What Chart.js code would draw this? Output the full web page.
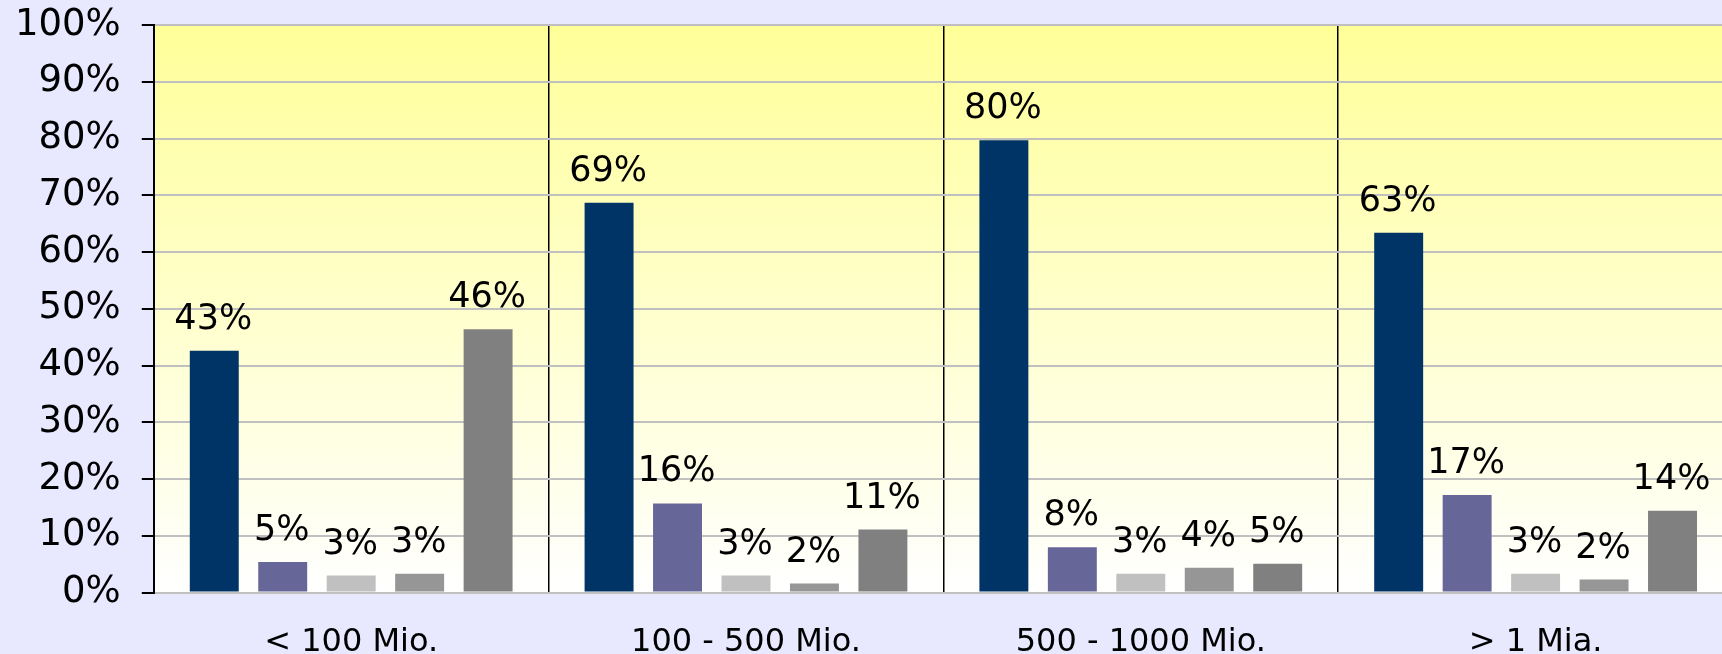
<!DOCTYPE html>
<html>
<head>
<meta charset="utf-8">
<script src="https://cdn.jsdelivr.net/npm/chart.js@4/dist/chart.umd.min.js"></script>
<style>
  html, body { margin: 0; padding: 0; background: #E8E8FF; overflow: hidden; }
  #wrap { width: 1736px; height: 654px; }
</style>
</head>
<body>
<div id="wrap"><canvas id="umsatzChart" width="1736" height="654"></canvas></div>
<script>
// Kategorien (Umsatzklassen)
var categories = ["< 100 Mio.", "100 - 500 Mio.", "500 - 1000 Mio.", "> 1 Mia."];

// Werte in Prozent, je Reihe
var serie1 = [42.6, 68.7, 79.7, 63.4];
var serie2 = [5.4, 15.7, 8.0, 17.2];
var serie3 = [3.0, 3.0, 3.3, 3.3];
var serie4 = [3.3, 1.6, 4.4, 2.3];
var serie5 = [46.4, 11.1, 5.1, 14.4];

var yTicks = [0, 10, 20, 30, 40, 50, 60, 70, 80, 90, 100];

var farben = ["#003366", "#666699", "#C0C0C0", "#969696", "#808080"];

var canvasElement = document.getElementById("umsatzChart");

// gelber Verlauf im Plotbereich
var hintergrund = {
    id: "hintergrund",
    beforeDraw: function (chart) {
        var a = chart.chartArea;
        var ctx = chart.ctx;
        var g = ctx.createLinearGradient(0, a.top, 0, a.bottom);
        g.addColorStop(0, "#FFFF99");
        g.addColorStop(1, "#FFFFFF");
        ctx.save();
        ctx.fillStyle = g;
        ctx.fillRect(a.left, a.top, a.right - a.left, a.bottom - a.top);
        ctx.restore();
    }
};

// Prozentwerte über den Balken
var werte = {
    id: "werte",
    afterDatasetsDraw: function (chart) {
        var ctx = chart.ctx;
        ctx.save();
        ctx.font = "35px 'DejaVu Sans'";
        ctx.fillStyle = "#000";
        ctx.textAlign = "center";
        ctx.textBaseline = "alphabetic";
        chart.data.datasets.forEach(function (ds, i) {
            chart.getDatasetMeta(i).data.forEach(function (bar, j) {
                ctx.fillText(Math.round(ds.data[j]) + "%", bar.x - 1, bar.y - 22);
            });
        });
        ctx.restore();
    }
};

var config = {
    type: "bar",
    data: {
        labels: categories,
        datasets: [
            { label: "Reihe 1", data: serie1, backgroundColor: farben[0] },
            { label: "Reihe 2", data: serie2, backgroundColor: farben[1] },
            { label: "Reihe 3", data: serie3, backgroundColor: farben[2] },
            { label: "Reihe 4", data: serie4, backgroundColor: farben[3] },
            { label: "Reihe 5", data: serie5, backgroundColor: farben[4] }
        ]
    },
    options: {
        responsive: false,
        animation: false,
        categoryPercentage: 0.867,
        barPercentage: 0.715,
        layout: { padding: { left: -6, top: 25, right: 3, bottom: -39 } },
        plugins: {
            legend: { display: false },
            tooltip: { enabled: false }
        },
        scales: {
            x: {
                grid: { color: "#000", lineWidth: 1.5, offset: true, drawTicks: false },
                border: { display: false },
                ticks: {
                    color: "#000",
                    padding: 31,
                    font: { family: "DejaVu Sans", size: 32 }
                }
            },
            y: {
                min: 0,
                max: 100,
                afterBuildTicks: function (axis) {
                    axis.ticks = yTicks.map(function (v) { return { value: v }; });
                },
                grid: {
                    color: "#C0C0C0",
                    lineWidth: 2,
                    drawTicks: true,
                    tickLength: 12,
                    tickColor: "#000",
                    tickWidth: 2
                },
                border: { color: "#000", width: 2 },
                ticks: {
                    color: "#000",
                    padding: 21,
                    font: { family: "DejaVu Sans", size: 37, lineHeight: 0.1 },
                    callback: function (v) { return v + "%"; }
                }
            }
        }
    },
    plugins: [hintergrund, werte]
};

var umsatzChart = new Chart(canvasElement, config);
</script>
</body>
</html>
